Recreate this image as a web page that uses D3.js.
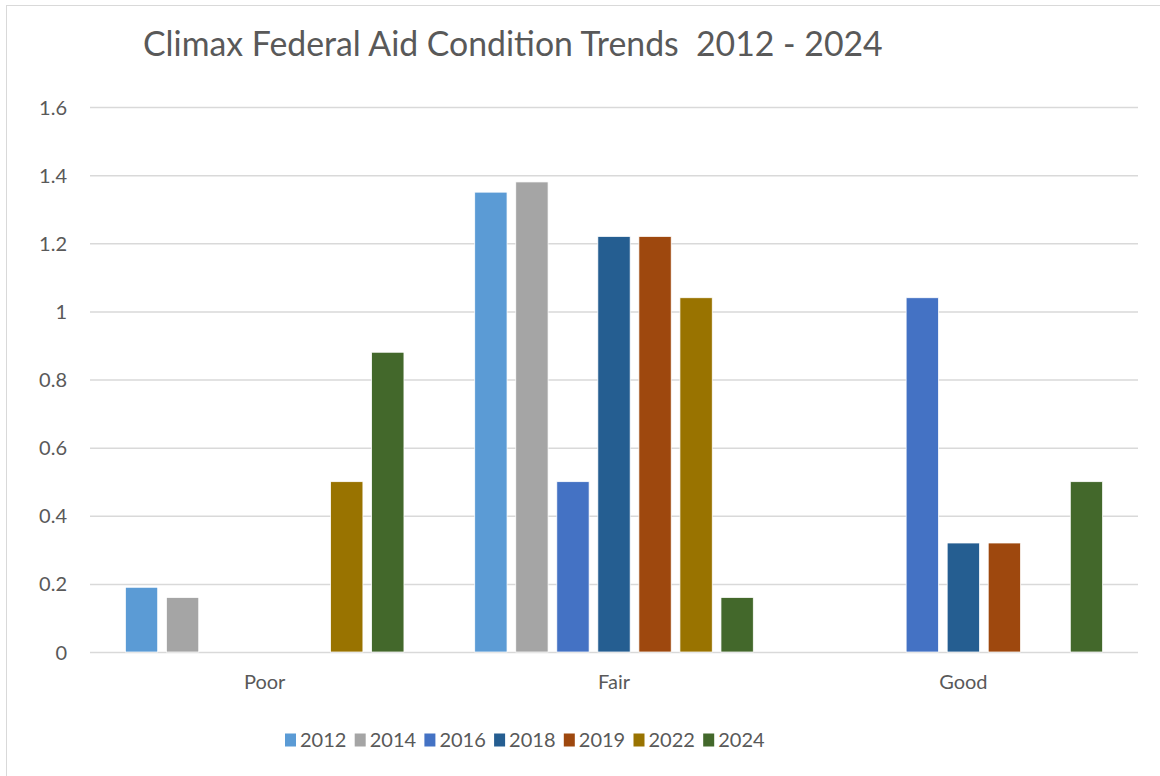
<!DOCTYPE html>
<html><head><meta charset="utf-8">
<script src="https://cdn.jsdelivr.net/npm/d3@7"></script>
<style>
html,body{margin:0;padding:0;background:#fff;}
svg{display:block;font-family:Lato,"Open Sans",sans-serif;}
</style></head>
<body>
<svg id="c" width="1160" height="776"></svg>
<script>
const categories = ["Poor", "Fair", "Good"];
const seriesNames = ["2012", "2014", "2016", "2018", "2019", "2022", "2024"];
const v2012 = [0.19, 1.35, 0];
const v2014 = [0.16, 1.38, 0];
const v2016 = [0, 0.5, 1.04];
const v2018 = [0, 1.22, 0.32];
const v2019 = [0, 1.22, 0.32];
const v2022 = [0.5, 1.04, 0];
const v2024 = [0.88, 0.16, 0.5];
const seriesColors = ["#5B9BD5", "#A5A5A5", "#4472C4", "#255E91", "#9E480E", "#997300", "#43682B"];
const yTicks = [0, 0.2, 0.4, 0.6, 0.8, 1, 1.2, 1.4, 1.6];
const titleText = "Climax Federal Aid Condition Trends\u00a0\u00a02012 - 2024";

const seriesValues = [v2012, v2014, v2016, v2018, v2019, v2022, v2024];
const svg = d3.select("#c");
const W = 1160, H = 776;
const m = {left: 90, right: 22, top: 107, bottom: 124};
const FS = 20;

// chart border
svg.append("rect").attr("x", 6.5).attr("y", 5.5).attr("width", W + 10).attr("height", H + 10)
  .attr("fill", "none").attr("stroke", "#D9D9D9").attr("stroke-width", 1);

const x0 = d3.scaleBand().domain(categories).range([m.left, W - m.right]).paddingInner(0).paddingOuter(0);
// Excel: gap width 219%, overlap -27%
const bw = x0.bandwidth();
const gap = 2.19, ov = 0.27, n = seriesNames.length;
const barW = bw / (n + (n - 1) * ov + gap);
const step = barW * (1 + ov);
function barX(cat, si){ return x0(cat) + bw/2 - (barW*n + (n-1)*barW*ov)/2 + si*step; }

const y = d3.scaleLinear().domain([0, 1.6]).range([H - m.bottom, m.top]);

// gridlines
const grid = svg.append("g").attr("class", "grid")
  .attr("transform", `translate(${m.left},0)`)
  .call(d3.axisLeft(y).tickValues(yTicks).tickSize(-(W - m.right - m.left)).tickFormat(""));
grid.select(".domain").remove();
grid.selectAll("line").attr("stroke", "#D9D9D9").attr("stroke-width", 1.5);

// y labels
const yax = svg.append("g").attr("transform", `translate(${m.left - 23},0)`)
  .call(d3.axisLeft(y).tickValues(yTicks).tickSize(0).tickPadding(0).tickFormat(d => String(d)));
yax.select(".domain").remove();
yax.selectAll("text").attr("fill", "#595959").style("font-size", FS + "px").attr("dy", "0.35em")
  .style("font-family", "Lato, 'Open Sans', sans-serif");

// bars
categories.forEach((cat, ci) => {
  seriesNames.forEach((s, si) => {
    const v = seriesValues[si][ci];
    if (v <= 0) return;
    svg.append("rect")
      .attr("x", barX(cat, si)).attr("width", barW)
      .attr("y", y(v)).attr("height", y(0) - y(v))
      .attr("fill", seriesColors[si]).attr("stroke", "#fff").attr("stroke-width", 0.75);
  });
});

// x axis labels
const xax = svg.append("g").attr("transform", `translate(0,${y(0)})`)
  .call(d3.axisBottom(x0).tickSize(0).tickPadding(23));
xax.select(".domain").remove();
xax.selectAll("text").attr("fill", "#595959").style("font-size", FS + "px")
  .style("font-family", "Lato, 'Open Sans', sans-serif");

// title
const t = svg.append("text").attr("x", 143).attr("y", 56).attr("fill", "#595959")
  .style("font-size", "30px").text(titleText);
const tw = t.node().getComputedTextLength();
t.style("font-size", (30 * 740 / tw) + "px");

// legend
const leg = svg.append("g");
const legStep = 69.7, legX0 = 285;
seriesNames.forEach((s, i) => {
  const g = leg.append("g").attr("transform", `translate(${legX0 + i*legStep},740)`);
  g.append("rect").attr("x", 0).attr("y", -6.5).attr("width", 11).attr("height", 13).attr("fill", seriesColors[i]);
  g.append("text").attr("x", 15).attr("y", 0).attr("dy", "0.36em").attr("fill", "#595959")
    .style("font-size", FS + "px").text(s);
});
</script>
</body></html>
